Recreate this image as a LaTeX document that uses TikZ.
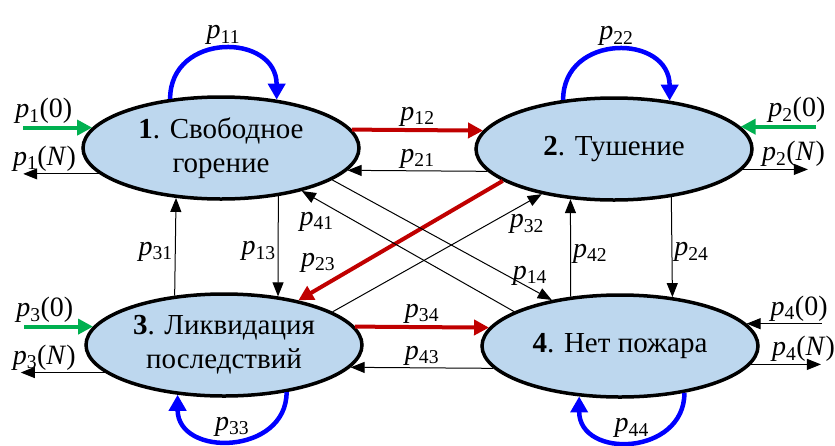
\documentclass[tikz,border=0pt]{standalone}
\usepackage{fontspec}
\setmainfont{Liberation Serif}
\usepackage{xcolor}
\usepackage{tikz}
\usetikzlibrary{shapes.geometric, arrows.meta}

\definecolor{stfill}{RGB}{189,215,238}
\definecolor{hotred}{RGB}{192,0,0}
\definecolor{ingreen}{RGB}{0,176,80}
\definecolor{loopblue}{RGB}{0,0,255}
\newcommand{\pp}[1]{\textit{p}\textsubscript{#1}}

\begin{document}
\begin{tikzpicture}[x=1pt, y=-1pt,
    state/.style={ellipse, draw, line width=3.5pt, fill=stfill, minimum width=276pt, minimum height=102pt,
        inner sep=0pt, align=center, font=\fontsize{29}{34}\selectfont},
    lbl/.style={font=\fontsize{28}{30}\selectfont, inner sep=2pt},
    tr/.style={-{Triangle[length=14pt, width=11pt]}, line width=1pt},
    hot/.style={-{Triangle[length=15pt, width=15pt]}, line width=4pt, draw=hotred},
    inflow/.style={-{Triangle[length=15pt, width=15pt]}, line width=4pt, draw=ingreen},
    loopy/.style={-{Triangle[length=16pt, width=17pt]}, line width=4.5pt, draw=loopblue}]
            \useasboundingbox (0, 0) rectangle (835, 445);

            \node[state] (s1) at (221, 148) {\textbf{1}. Свободное\\горение};
            \node[state] (s2) at (614, 149) {\textbf{2}. Тушение};
            \node[state] (s3) at (224, 345) {\textbf{3}. Ликвидация\\последствий};
            \node[state] (s4) at (620, 346) {\textbf{4}. Нет пожара};

            \draw[loopy] (s1.136) .. controls +(0, -67) and +(0, -67) .. (s1.41) node[lbl, above, pos=0.5] {\pp{11}};
            \draw[loopy] (s2.136) .. controls +(0, -67) and +(0, -67) .. (s2.41) node[lbl, above, pos=0.5] {\pp{22}};
            \draw[loopy] (s3.-37) .. controls +(0, 63) and +(0, 63) .. (s3.227) node[lbl, above, pos=0.5] {\pp{33}};
            \draw[loopy] (s4.-36) .. controls +(0, 63) and +(0, 63) .. (s4.231) node[lbl, above, pos=0.5] {\pp{44}};

            \path (s1.171) ++(-69, 0) coordinate (in1);
            \path (s1.192) ++(-76, 0) coordinate (out1);
            \path (s2.10) ++(75, 0) coordinate (in2);
            \path (s2.-9) ++(65, 0) coordinate (out2);
            \path (s3.172) ++(-69, 0) coordinate (in3);
            \path (s3.193) ++(-84, 0) coordinate (out3);
            \path (s4.10) ++(75, 0) coordinate (in4);
            \path (s4.-8) ++(70, 0) coordinate (out4);

            \draw[inflow] (in1) -- node[lbl, above, pos=0.3] {\pp{1}(0)} (s1.171);
            \draw[tr] (s1.192) -- node[lbl, above, pos=0.72] {\pp{1}(\textit{N})} (out1);
            \draw[inflow] (in2) -- node[lbl, above, pos=0.25] {\pp{2}(0)} (s2.10);
            \draw[tr] (s2.-9) -- node[lbl, above, pos=0.78] {\pp{2}(\textit{N})} (out2);
            \draw[inflow] (in3) -- node[lbl, above, pos=0.3] {\pp{3}(0)} (s3.172);
            \draw[tr] (s3.193) -- node[lbl, above, pos=0.72] {\pp{3}(\textit{N})} (out3);
            \draw[tr] (in4) -- node[lbl, above, pos=0.3] {\pp{4}(0)} (s4.10);
            \draw[tr] (s4.-8) -- node[lbl, above, pos=0.75] {\pp{4}(\textit{N})} (out4);

            \draw[hot] (s1.8) -- node[lbl, above] {\pp{12}} (s2.172);
            \draw[tr] (s2.190) -- node[lbl, above] {\pp{21}} (s1.-10);
            \draw[hot] (s3.8) -- node[lbl, above] {\pp{34}} (s4.172);
            \draw[tr] (s4.190) -- node[lbl, above] {\pp{43}} (s3.-10);

            \draw[tr] (s3.135) -- node[lbl, left, pos=0.45] {\pp{31}} (s1.228);
            \draw[tr] (s1.-40) -- node[lbl, left, pos=0.55] {\pp{13}} (s3.42);
            \draw[tr] (s4.135) -- node[lbl, right, pos=0.44] {\pp{42}} (s2.229);
            \draw[tr] (s2.-40) -- node[lbl, right, pos=0.55] {\pp{24}} (s4.43);

            \draw[hot] (s2.196) -- node[lbl, above left, pos=0.8] {\pp{23}} (s3.31);
            \draw[tr] (s4.162) -- node[lbl, below, pos=0.93, yshift=-10pt] {\pp{41}} (s1.-28);
            \draw[tr] (s1.-16) -- node[lbl, above, pos=0.9] {\pp{14}} (s4.146);
            \draw[tr] (s3.17) -- node[lbl, below, pos=0.9, xshift=6pt, yshift=-6pt] {\pp{32}} (s2.212);
        \end{tikzpicture}
\end{document}
